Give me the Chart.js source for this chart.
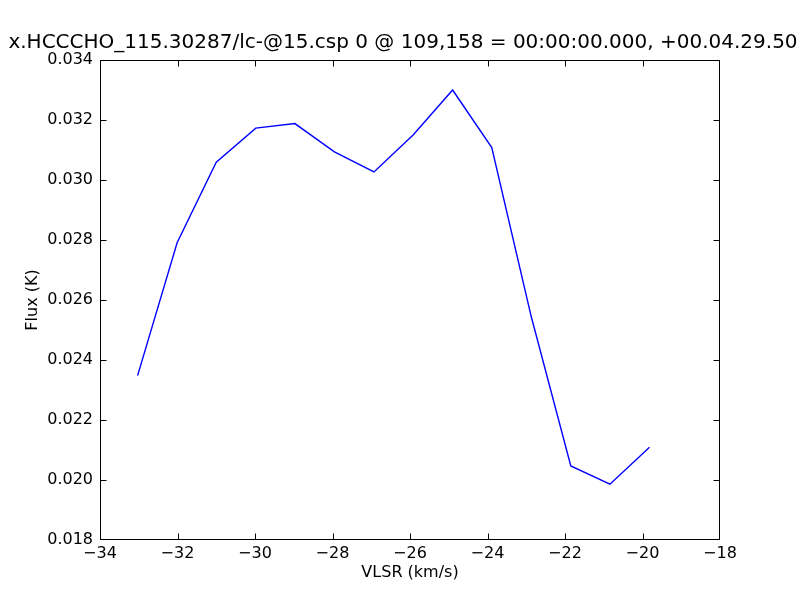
<!DOCTYPE html>
<html>
<head>
<meta charset="utf-8">
<script src="https://cdn.jsdelivr.net/npm/chart.js@4/dist/chart.umd.min.js"></script>
<style>
  html, body { margin: 0; padding: 0; background: #fff; }
  #wrap { width: 800px; height: 600px; }
</style>
</head>
<body>
<div id="wrap"><canvas id="c" width="800" height="600"></canvas></div>
<script>
// data
var velocity = [-33.03, -32.01, -31.00, -29.98, -28.97, -27.95, -26.93,
                -25.92, -24.90, -23.89, -22.87, -21.85, -20.84, -19.82];
var flux = [0.02348, 0.02791, 0.03059, 0.03173, 0.03188, 0.03094, 0.03027,
            0.03150, 0.03300, 0.03108, 0.02544, 0.02047, 0.01986, 0.02109];
var xTicks = [-34, -32, -30, -28, -26, -24, -22, -20, -18];
var yTicks = [0.018, 0.020, 0.022, 0.024, 0.026, 0.028, 0.030, 0.032, 0.034];
var titleText = 'x.HCCCHO_115.30287/lc-@15.csp 0 @ 109,158 = 00:00:00.000, +00.04.29.50';

var FONT = 'DejaVu Sans';

// matplotlib style: framed axes with inward ticks on all 4 sides + title
var frame = {
  id: 'frame',
  afterDraw: function(chart) {
    let ctx = chart.ctx, a = chart.chartArea;
    let xs = chart.scales.x, ys = chart.scales.y;
    let l = a.left + 0.5, r = a.right - 0.5, t = a.top + 0.5, b = a.bottom - 0.5;
    let clamp = function(v, lo, hi) { return Math.min(hi, Math.max(lo, v)); };
    ctx.save();
    ctx.strokeStyle = '#000';
    ctx.lineWidth = 1;
    ctx.strokeRect(l, t, r - l, b - t);
    ctx.beginPath();
    xTicks.forEach(function(v) {
      let px = clamp(Math.round(xs.getPixelForValue(v)) + 0.5, l, r);
      ctx.moveTo(px, b); ctx.lineTo(px, b - 6);
      ctx.moveTo(px, t); ctx.lineTo(px, t + 6);
    });
    yTicks.forEach(function(v) {
      let py = clamp(Math.round(ys.getPixelForValue(v)) + 0.5, t, b);
      ctx.moveTo(l, py); ctx.lineTo(l + 6, py);
      ctx.moveTo(r, py); ctx.lineTo(r - 6, py);
    });
    ctx.stroke();
    ctx.fillStyle = '#000';
    ctx.font = '20px "' + FONT + '"';
    ctx.textAlign = 'center';
    ctx.textBaseline = 'alphabetic';
    ctx.fillText(titleText, (a.left + a.right) / 2 - 7, 48);
    ctx.restore();
  }
};

let ctx = document.getElementById('c').getContext('2d');
let chart = new Chart(ctx, {
  type: 'line',
  data: {
    datasets: [{
      data: velocity.map(function(v, i) { return {x: v, y: flux[i]}; }),
      borderColor: '#0000ff',
      borderWidth: 1.4,
      pointRadius: 0,
      fill: false,
      tension: 0
    }]
  },
  options: {
    responsive: false,
    animation: false,
    layout: { padding: { top: 60, right: 80, left: 0, bottom: 0 } },
    plugins: { legend: { display: false }, tooltip: { enabled: false }, title: { display: false } },
    scales: {
      x: {
        type: 'linear',
        min: -34, max: -18,
        afterFit: function(s) { s.height = 60; },
        afterBuildTicks: function(s) { s.ticks = xTicks.map(function(v) { return {value: v}; }); },
        grid: { display: false, drawTicks: false },
        border: { display: false },
        ticks: {
          color: '#000', padding: 4,
          font: { family: FONT, size: 16 },
          maxRotation: 0,
          callback: function(v) { return String(v).replace('-', '\u2212'); }
        },
        title: {
          display: true, text: 'VLSR (km/s)', color: '#000',
          font: { family: FONT, size: 16 },
          padding: { top: 0, bottom: 18 }
        }
      },
      y: {
        min: 0.018, max: 0.034,
        afterFit: function(s) { s.width = 100; },
        afterBuildTicks: function(s) { s.ticks = yTicks.map(function(v) { return {value: v}; }); },
        grid: { display: false, drawTicks: false },
        border: { display: false },
        ticks: {
          color: '#000', padding: 7,
          font: { family: FONT, size: 16 },
          callback: function(v) { return v.toFixed(3); }
        },
        title: {
          display: true, text: 'Flux (K)', color: '#000',
          font: { family: FONT, size: 16 },
          padding: { top: 23, bottom: 0 }
        }
      }
    }
  },
  plugins: [frame]
});
</script>
</body>
</html>
